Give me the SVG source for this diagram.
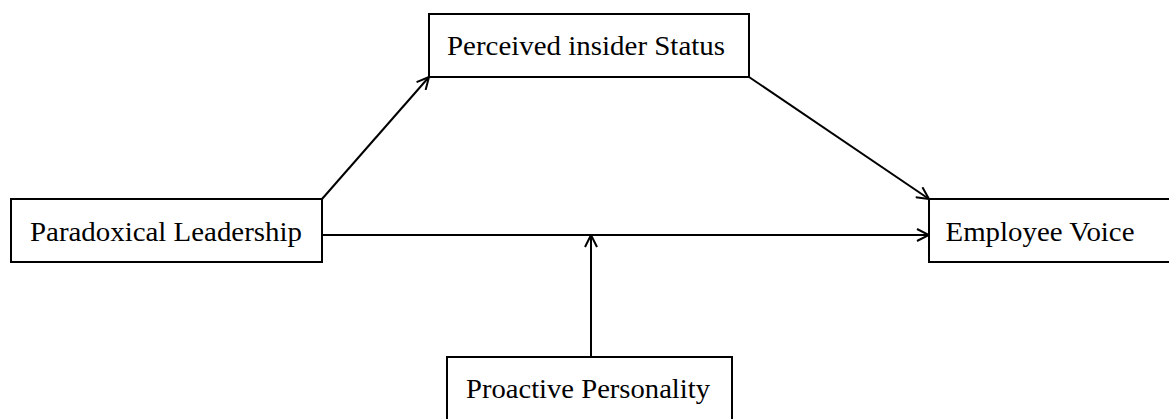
<svg xmlns="http://www.w3.org/2000/svg" width="1169" height="419" viewBox="0 0 1169 419">
  <style>
    .box { fill: #ffffff; stroke: #000000; stroke-width: 2; }
    .label { font-family: "Liberation Serif", "Times New Roman", serif; font-size: 28px; fill: #000000; }
    .edge { fill: none; stroke: #000000; stroke-width: 2; marker-end: url(#arrow); }
  </style>
  <defs>
    <!-- open V arrowhead shared by every connector -->
    <marker id="arrow" viewBox="0 0 14 14" refX="13" refY="7" markerWidth="14" markerHeight="14" markerUnits="userSpaceOnUse" orient="auto">
      <path d="M1,1 L13,7 L1,13" fill="none" stroke="#000000" stroke-width="2"/>
    </marker>
  </defs>
  <rect width="1169" height="419" fill="#ffffff"/>

  <g id="connectors">
    <line class="edge" x1="322" y1="199" x2="429" y2="77"/>
    <line class="edge" x1="749" y1="77" x2="929" y2="199"/>
    <line class="edge" x1="322" y1="235" x2="929" y2="235"/>
    <line class="edge" x1="591" y1="357" x2="591" y2="235"/>
  </g>

  <g id="paradoxical-leadership">
    <rect class="box" x="11" y="199" width="311" height="63"/>
    <text class="label" x="166" y="241" text-anchor="middle" textLength="272" lengthAdjust="spacingAndGlyphs">Paradoxical Leadership</text>
  </g>

  <g id="perceived-insider-status">
    <rect class="box" x="429" y="14" width="320" height="63"/>
    <text class="label" x="586" y="55" text-anchor="middle" textLength="278" lengthAdjust="spacingAndGlyphs">Perceived insider Status</text>
  </g>

  <g id="employee-voice">
    <rect class="box" x="929" y="199" width="245" height="63"/>
    <text class="label" x="1040" y="241" text-anchor="middle" textLength="189" lengthAdjust="spacingAndGlyphs">Employee Voice</text>
  </g>

  <g id="proactive-personality">
    <rect class="box" x="447" y="357" width="285" height="70"/>
    <text class="label" x="588" y="398" text-anchor="middle" textLength="244" lengthAdjust="spacingAndGlyphs">Proactive Personality</text>
  </g>
</svg>
